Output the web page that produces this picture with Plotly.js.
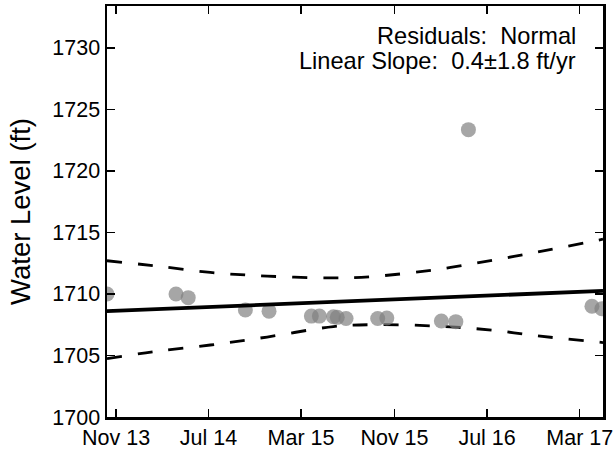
<!DOCTYPE html>
<html>
<head>
<meta charset="utf-8">
<script src="https://cdn.plot.ly/plotly-3.0.1.min.js"></script>
<style>html,body{margin:0;padding:0;background:#fff;}#chart{width:614px;height:450px;}</style>
</head>
<body>
<div id="chart"></div>
<script>
// Observed water levels
const obsDates = ["2013-10-08","2014-04-07","2014-05-09","2014-10-06","2014-12-07",
  "2015-03-28","2015-04-18","2015-05-25","2015-06-04","2015-06-27",
  "2015-09-18","2015-10-12","2016-03-03","2016-04-10","2016-05-13",
  "2017-04-02","2017-04-28"];
const obsLevels = [1710.0, 1710.0, 1709.7, 1708.7, 1708.6,
  1708.2, 1708.2, 1708.15, 1708.1, 1708.0,
  1708.0, 1708.05, 1707.8, 1707.75, 1723.35,
  1709.0, 1708.8];

// Linear trend
const trendDates = ["2013-10-08","2017-05-01"];
const trendLevels = [1708.6, 1710.25];

// Confidence band
const bandDates = ["2013-10-08","2014-02-06","2014-07-06","2014-12-02","2015-05-25",
  "2015-08-30","2016-02-11","2016-07-17","2016-11-09","2017-05-01"];
const upperLevels = [1712.7, 1712.3, 1711.75, 1711.45, 1711.3, 1711.4, 1711.95, 1712.75, 1713.4, 1714.45];
const lowerLevels = [1704.75, 1705.3, 1705.85, 1706.5, 1707.35, 1707.5, 1707.4, 1707.05, 1706.6, 1706.05];

const xTickVals = ["2013-11-01","2014-07-01","2015-03-01","2015-11-01","2016-07-01","2017-03-01"];
const xTickText = ["Nov 13","Jul 14","Mar 15","Nov 15","Jul 16","Mar 17"];
const yTickVals = [1700, 1705, 1710, 1715, 1720, 1725, 1730];

const FONT = "Liberation Sans, Arial, Helvetica, sans-serif";

const traces = [
  {x: bandDates, y: upperLevels, type: "scatter", mode: "lines",
   line: {color: "#000", width: 2.8, dash: "15px,16px", shape: "spline"}, hoverinfo: "skip"},
  {x: bandDates, y: lowerLevels, type: "scatter", mode: "lines",
   line: {color: "#000", width: 2.8, dash: "15px,16px", shape: "spline"}, hoverinfo: "skip"},
  {x: obsDates, y: obsLevels, type: "scatter", mode: "markers", cliponaxis: true,
   marker: {color: "rgba(128,128,128,0.7)", size: 15, line: {width: 0}}},
  {x: trendDates, y: trendLevels, type: "scatter", mode: "lines",
   line: {color: "#000", width: 3.8}}
];

const layout = {
  width: 614, height: 450,
  margin: {l: 107, r: 11, t: 6, b: 33},
  showlegend: false,
  paper_bgcolor: "#fff", plot_bgcolor: "#fff",
  font: {family: FONT, color: "#000", size: 21.5},
  xaxis: {
    type: "date",
    range: ["2013-10-08", "2017-05-01"],
    tickmode: "array", tickvals: xTickVals, ticktext: xTickText,
    ticks: "inside", ticklen: 8, tickwidth: 1.5, tickcolor: "#000",
    showline: true, linewidth: 2.5, linecolor: "#000", mirror: "ticks",
    showgrid: false, zeroline: false,
    tickfont: {family: FONT, size: 21.5, color: "#000"}
  },
  yaxis: {
    range: [1700, 1733.4],
    tickmode: "array", tickvals: yTickVals,
    ticks: "inside", ticklen: 8, tickwidth: 1.5, tickcolor: "#000",
    showline: true, linewidth: 2.5, linecolor: "#000", mirror: "ticks",
    showgrid: false, zeroline: false,
    tickfont: {family: FONT, size: 21.5, color: "#000"},
    title: {text: "Water Level (ft)", font: {family: FONT, size: 27.5, color: "#000"}, standoff: 14}
  },
  annotations: [
    {xref: "paper", yref: "paper", x: 0.949, y: 0.928, xanchor: "right", yanchor: "middle",
     text: "Residuals:  Normal", showarrow: false, font: {family: FONT, size: 23.6, color: "#000"}},
    {xref: "paper", yref: "paper", x: 0.949, y: 0.866, xanchor: "right", yanchor: "middle",
     text: "Linear Slope:  0.4±1.8 ft/yr", showarrow: false, font: {family: FONT, size: 23.6, color: "#000"}}
  ]
};

Plotly.newPlot("chart", traces, layout, {staticPlot: true, displayModeBar: false});
</script>
</body>
</html>
